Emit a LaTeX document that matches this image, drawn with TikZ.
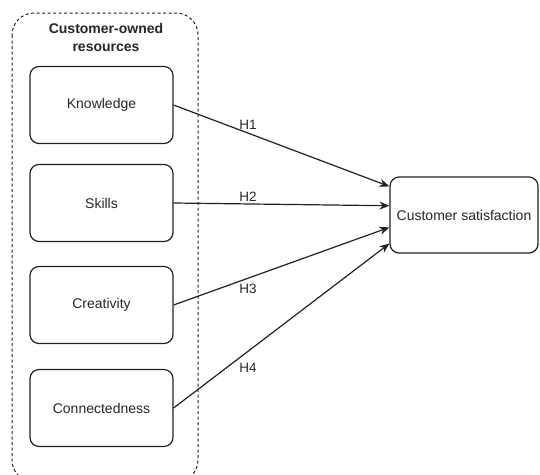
\documentclass[tikz,border=0pt]{standalone}
\usepackage{fontspec}
\setmainfont{Liberation Sans}
\usetikzlibrary{arrows.meta,calc}
\definecolor{edge}{HTML}{222222}
\tikzset{
  resbox/.style={draw=edge, line width=1.2pt, rounded corners=9pt,
    minimum width=143pt, minimum height=77pt, font=\fontsize{14}{16}\selectfont, text=black!85},
  link/.style={draw=edge, line width=1.2pt, -{Stealth[length=10pt,width=8pt]}},
  hyp/.style={font=\fontsize{13.5}{15}\selectfont, text=black!85},
}
\begin{document}
\begin{tikzpicture}[x=1pt,y=-1pt]
  \clip (0,0) rectangle (540,474);
  \fill[white] (0,0) rectangle (540,474);
  % dashed group container
  \draw[edge, line width=1pt, dash pattern=on 3pt off 2.5pt, rounded corners=22pt]
    (12,13) rectangle (198,482);
  \node[font=\bfseries\fontsize{14}{18.5}\selectfont, align=center, text=black!85] (title)
    at (106,37.5) {Customer-owned\\resources};
  % resource boxes
  \node[resbox] (kn) at (101.5,105) {Knowledge};
  \node[resbox] (sk) at (101.5,203) {Skills};
  \node[resbox] (cr) at (101.5,305) {Creativity};
  \node[resbox] (co) at (101.5,408) {Connectedness};
  % outcome
  \node[resbox, minimum width=148pt, minimum height=76pt] (cs) at (464,215) {Customer satisfaction};
  % entry points on the left side of the outcome box
  \coordinate (e1) at ($(cs.north west)!0.13!(cs.south west)$);
  \coordinate (e2) at ($(cs.north west)!0.38!(cs.south west)$);
  \coordinate (e3) at ($(cs.north west)!0.66!(cs.south west)$);
  \coordinate (e4) at ($(cs.north west)!0.87!(cs.south west)$);
  % hypothesised paths
  \draw[link] (kn.east) -- node[hyp, pos=0.345, above=0pt] {H1} (e1);
  \draw[link] (sk.east) -- node[hyp, pos=0.345, above=-1.5pt] {H2} (e2);
  \draw[link] (cr.east) -- node[hyp, pos=0.345, below=2pt] {H3} (e3);
  \draw[link] (co.east) -- node[hyp, pos=0.345, below=8pt] {H4} (e4);
\end{tikzpicture}
\end{document}
